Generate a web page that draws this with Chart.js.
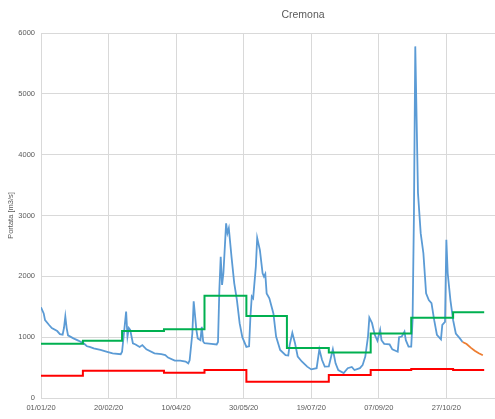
<!DOCTYPE html>
<html>
<head>
<meta charset="utf-8">
<script src="https://cdn.jsdelivr.net/npm/chart.js@4.4.1/dist/chart.umd.min.js"></script>
<style>
  body { margin: 0; background: #fff; }
  #wrap { width: 495px; height: 419px; }
</style>
</head>
<body>
<div id="wrap"><canvas id="myChart"></canvas></div>
<script>
const chartTitle = 'Cremona'
const yTitle = 'Portata [m3/s]'

// days counted from 01/01/20
const flowDays = [0, 2, 3, 6, 8, 12, 14, 16, 17, 18, 19, 20, 24, 28, 32, 34, 36, 39, 44, 49, 53, 59, 60, 62, 63, 64, 65, 66, 68, 70, 73, 75, 78,
    84, 89, 92, 94, 99, 103, 107, 109, 110, 112, 113, 115, 116, 118, 119, 120, 121, 126, 130, 131, 132, 133, 134, 135, 137, 138, 139,
    141, 143, 145, 147, 149, 152, 154, 155, 156, 157, 159, 160, 162, 164, 165, 166, 167, 169, 172, 174, 177, 181, 183, 184, 186, 188,
    190, 193, 197, 200, 204, 206, 208, 210, 213, 216, 218, 220, 224, 227, 230, 232, 236, 238, 240, 242, 243, 245, 247, 249, 251, 252,
    254, 258, 260, 264, 265, 267, 269, 270, 272, 274, 275, 276, 277, 278, 279, 281, 283, 285, 287, 289, 291, 293, 296, 297, 299, 300,
    301, 303, 305, 307, 310, 312]
const flowValues = [1490, 1390, 1280, 1200, 1150, 1100, 1050, 1040, 1150, 1340, 1150, 1030, 980, 940, 890, 850, 840, 815, 790, 760, 735, 720, 760, 1200, 1420, 1010, 1150, 1120, 900, 880, 840, 870, 800,
    735, 720, 705, 665, 615, 615, 600, 570, 620, 1060, 1590, 1120, 980, 950, 1170, 930, 900, 890, 880, 920, 1780, 2320, 1860, 2050, 2870, 2710, 2790,
    2320, 1890, 1610, 1230, 1000, 840, 850, 1340, 1670, 1640, 2160, 2630, 2430, 2050, 1995, 2040, 1720, 1640, 1390, 1010, 790, 705, 700, 870, 1070, 900,
    680, 600, 515, 470, 490, 800, 625, 515, 520, 800, 570, 460, 410, 490, 510, 460, 490, 540, 680, 1010, 1320, 1230, 1040, 940, 1120, 950,
    890, 880, 800, 760, 1000, 1010, 1090, 950, 845, 845, 1280, 3000, 5780, 4570, 3370, 2710, 2380, 1720, 1610, 1560, 1280, 1040, 965, 1200, 1250, 2600,
    2050, 1610, 1280, 1060, 980, 920]

const forecastDays = [312, 315, 318, 321, 324, 327]
const forecastValues = [920, 888, 828, 778, 735, 702]

// monthly thresholds, last entry closes November
const stepDays = [0, 31, 60, 91, 121, 152, 182, 213, 244, 274, 305, 328]
const greenValues = [890, 940, 1100, 1130, 1680, 1350, 820, 750, 1060, 1320, 1410, 1410]
const redValues = [365, 450, 450, 415, 460, 268, 268, 380, 460, 475, 460, 460]

const yTicks = [0, 1000, 2000, 3000, 4000, 5000, 6000]

const toPoints = (days, values) => days.map((d, i) => ({ x: d, y: values[i] }))

const fmtDay = (v) => {
    const d = new Date(Date.UTC(2020, 0, 1 + v))
    const dd = String(d.getUTCDate()).padStart(2, '0')
    const mm = String(d.getUTCMonth() + 1).padStart(2, '0')
    return `${dd}/${mm}/${String(d.getUTCFullYear()).slice(2)}`
}

const textColor = '#595959'
const gridColor = '#D9D9D9'
const tickFont = { family: 'Liberation Sans', size: 7.5 }

const titlePlugin = {
    id: 'chartTitle',
    afterDraw(chart) {
        const c = chart.ctx
        c.save()
        c.font = '10.5px "Liberation Sans"'
        c.fillStyle = textColor
        c.textAlign = 'center'
        c.textBaseline = 'middle'
        c.fillText(chartTitle, 303, 15)
        c.restore()
    }
}

const lineInfo = {
    pointRadius: 0,
    fill: false,
    tension: 0
}

new Chart(document.getElementById('myChart'), {
    type: 'line',
    data: {
        datasets: [
            { label: 'Soglia', data: toPoints(stepDays, greenValues), borderColor: '#00B050', borderWidth: 2, stepped: true, ...lineInfo },
            { label: 'Minimo', data: toPoints(stepDays, redValues), borderColor: '#FF0000', borderWidth: 2, stepped: true, ...lineInfo },
            { label: 'Previsione', data: toPoints(forecastDays, forecastValues), borderColor: '#ED7D31', borderWidth: 1.8, ...lineInfo },
            { label: 'Portata', data: toPoints(flowDays, flowValues), borderColor: '#5B9BD5', borderWidth: 1.8, ...lineInfo },
        ]
    },
    options: {
        responsive: true,
        maintainAspectRatio: false,
        animation: false,
        layout: { padding: { top: 33, right: 0, left: 0, bottom: 0 } },
        plugins: {
            legend: { display: false },
            tooltip: { enabled: false },
            title: { display: false }
        },
        scales: {
            x: {
                type: 'linear',
                min: 0,
                max: 336,
                afterFit: (scale) => { scale.height = 21 },
                grid: { color: gridColor, drawTicks: false },
                border: { color: gridColor },
                ticks: {
                    stepSize: 50,
                    includeBounds: false,
                    padding: 5,
                    color: textColor,
                    font: tickFont,
                    maxRotation: 0,
                    callback: (v) => fmtDay(v)
                }
            },
            y: {
                min: 0,
                max: 6000,
                afterFit: (scale) => { scale.width = 41 },
                afterBuildTicks: (scale) => { scale.ticks = yTicks.map(v => ({ value: v })) },
                grid: { color: gridColor, drawTicks: false },
                border: { color: gridColor },
                ticks: { padding: 6, color: textColor, font: tickFont, callback: (v) => String(v) },
                title: {
                    display: true,
                    text: yTitle,
                    color: textColor,
                    font: { family: 'Liberation Sans', size: 7.5 },
                    padding: { top: 6, bottom: 0 }
                }
            }
        }
    },
    plugins: [titlePlugin]
})
</script>
</body>
</html>
